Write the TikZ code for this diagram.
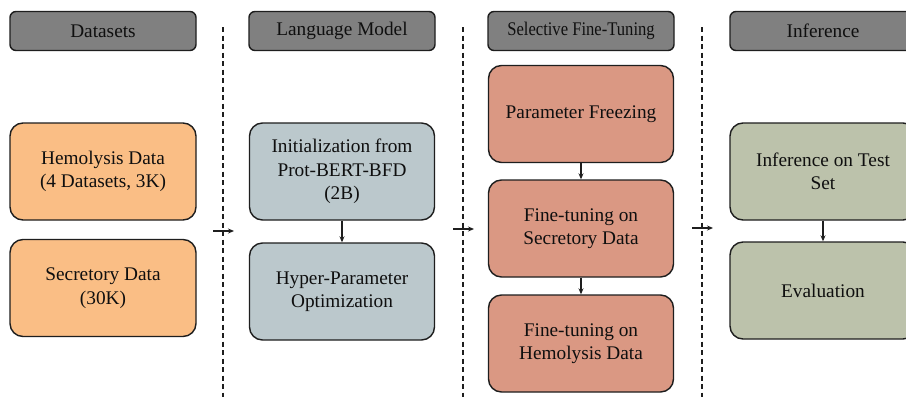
\documentclass[tikz,border=0pt]{standalone}
\usepackage{fontspec}
\usepackage{graphicx}
\setmainfont{Liberation Serif}
\usetikzlibrary{arrows.meta}
\definecolor{hdrgray}{RGB}{128,128,128}
\definecolor{dataorange}{RGB}{250,190,133}
\definecolor{modelblue}{RGB}{187,200,204}
\definecolor{tunesalmon}{RGB}{218,152,131}
\definecolor{infgreen}{RGB}{188,194,171}
\definecolor{edgedark}{RGB}{30,30,30}
\definecolor{txtdark}{RGB}{15,15,15}
\tikzset{
  hdrbox/.style={draw=edgedark, line width=1.4pt, fill=hdrgray, rounded corners=6pt,
    minimum width=186pt, minimum height=39pt, inner sep=0pt, text=txtdark,
    font=\fontsize{19.3}{23}\selectfont},
  bigbox/.style={draw=edgedark, line width=1.4pt, rounded corners=13pt,
    minimum width=186pt, minimum height=97pt, inner sep=0pt, align=center, text=txtdark,
    font=\fontsize{19.3}{23.5}\selectfont},
  sepline/.style={draw=edgedark, line width=1.1pt, dash pattern=on 5pt off 3.5pt},
  flow/.style={draw=edgedark, line width=1.1pt, -{Stealth[length=6pt,width=5pt]}}
}
\begin{document}
\begin{tikzpicture}[x=1pt,y=-1pt]
\clip (0,0) rectangle (906,397);
\fill[white] (0,0) rectangle (906,397);
% separators
\draw[sepline] (223,27) -- (223,397);
\draw[sepline] (463,27) -- (463,397);
\draw[sepline] (702,27) -- (702,397);
% headers
\node[hdrbox] (h1) at (103,31) {Datasets};
\node[hdrbox] (h2) at (342,31) {Language Model};
\node[hdrbox] (h3) at (581,31) {\scalebox{0.86}[1]{Selective Fine-Tuning}};
\node[hdrbox] (h4) at (823,31) {Inference};
% column 1
\node[bigbox, fill=dataorange] (hem) at (103,171.5) {Hemolysis Data\\(4 Datasets, 3K)};
\node[bigbox, fill=dataorange] (sec) at (103,288) {Secretory Data\\(30K)};
% column 2
\node[bigbox, fill=modelblue, minimum width=185pt] (init) at (342,171.5) {Initialization from\\Prot-BERT-BFD\\(2B)};
\node[bigbox, fill=modelblue, minimum width=185pt] (hyp) at (342,291.5) {Hyper-Parameter\\Optimization};
% column 3
\node[bigbox, fill=tunesalmon, minimum width=185pt] (frz) at (581,114) {Parameter Freezing};
\node[bigbox, fill=tunesalmon, minimum width=185pt] (fts) at (581,228.5) {Fine-tuning on\\Secretory Data};
\node[bigbox, fill=tunesalmon, minimum width=185pt] (fth) at (581,343.5) {Fine-tuning on\\Hemolysis Data};
% column 4
\node[bigbox, fill=infgreen] (inf) at (823,171.5) {Inference on Test\\Set};
\node[bigbox, fill=infgreen] (ev) at (823,290.5) {Evaluation};
% vertical arrows
\draw[flow] (init) -- (hyp);
\draw[flow] (frz) -- (fts);
\draw[flow] (fts) -- (fth);
\draw[flow] (inf) -- (ev);
% column transitions
\coordinate (a1s) at (213,231); \coordinate (a1e) at (234,231);
\coordinate (a2s) at (453,229); \coordinate (a2e) at (474,229);
\coordinate (a3s) at (692,228); \coordinate (a3e) at (713,228);
\draw[flow] (a1s) -- (a1e);
\draw[flow] (a2s) -- (a2e);
\draw[flow] (a3s) -- (a3e);
\end{tikzpicture}
\end{document}
